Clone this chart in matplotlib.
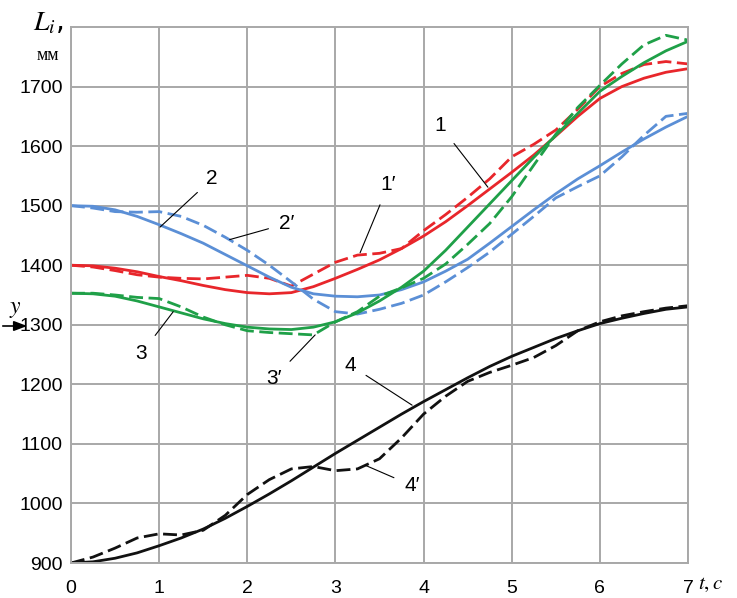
import matplotlib
matplotlib.use("Agg")
import matplotlib.pyplot as plt
import numpy as np

plt.rcParams['mathtext.fontset'] = 'stix'

t = [0, 0.25, 0.5, 0.75, 1.0, 1.25, 1.5, 1.75, 2.0, 2.25, 2.5, 2.75, 3.0, 3.25,
     3.5, 3.75, 4.0, 4.25, 4.5, 4.75, 5.0, 5.25, 5.5, 5.75, 6.0, 6.25, 6.5, 6.75, 7.0]

L1 = [1400, 1399, 1395, 1389, 1381, 1374, 1366, 1359, 1354, 1352, 1354, 1364, 1378, 1393,
      1409, 1428, 1449, 1473, 1500, 1528, 1556, 1585, 1617, 1650, 1680, 1700, 1714, 1724, 1730]
L1p = [1400, 1397, 1391, 1384, 1380, 1378, 1377, 1380, 1383, 1378, 1365, 1385, 1405, 1417,
       1420, 1428, 1458, 1485, 1514, 1545, 1582, 1603, 1627, 1662, 1700, 1722, 1737, 1742, 1738]
L2 = [1500, 1499, 1493, 1482, 1468, 1453, 1437, 1418, 1399, 1380, 1363, 1352, 1348, 1347,
      1350, 1359, 1372, 1390, 1410, 1437, 1465, 1493, 1520, 1545, 1567, 1590, 1612, 1632, 1650]
L2p = [1500, 1496, 1490, 1489, 1490, 1482, 1467, 1447, 1425, 1400, 1372, 1343, 1322, 1318,
       1326, 1336, 1350, 1372, 1396, 1422, 1452, 1482, 1513, 1532, 1550, 1582, 1618, 1650, 1655]
L3 = [1353, 1352, 1348, 1340, 1330, 1320, 1310, 1302, 1296, 1293, 1292, 1296, 1305, 1320,
      1340, 1363, 1390, 1425, 1464, 1503, 1542, 1581, 1618, 1655, 1692, 1717, 1740, 1760, 1776]
L3p = [1353, 1353, 1350, 1346, 1344, 1330, 1313, 1300, 1290, 1287, 1285, 1283, 1305, 1322,
       1348, 1362, 1378, 1402, 1435, 1470, 1515, 1568, 1620, 1665, 1702, 1738, 1770, 1786, 1778]
L4 = [900, 902, 908, 917, 929, 942, 957, 975, 995, 1016, 1038, 1061, 1084, 1106,
      1128, 1150, 1171, 1191, 1211, 1230, 1247, 1262, 1277, 1290, 1302, 1311, 1319, 1326, 1330]
L4p = [900, 910, 925, 942, 949, 947, 955, 980, 1015, 1040, 1058, 1062, 1055, 1058,
       1075, 1110, 1150, 1180, 1205, 1220, 1232, 1245, 1265, 1290, 1305, 1315, 1322, 1328, 1332]

xticks = [0, 1, 2, 3, 4, 5, 6, 7]
yticks = [900, 1000, 1100, 1200, 1300, 1400, 1500, 1600, 1700]

RED = '#e8262b'
BLUE = '#5b8fd6'
GREEN = '#1fa048'
BLACK = '#111111'

fig = plt.figure(figsize=(7.37, 5.98), dpi=100)
ax = fig.add_axes([71/737, 1-563/598, (688-71)/737, (563-27)/598])

lw = 2.0
dash = (5, 2)
ax.plot(t, L1, color=RED, lw=lw)
ax.plot(t, L1p, color=RED, lw=lw, dashes=dash)
ax.plot(t, L2, color=BLUE, lw=lw)
ax.plot(t, L2p, color=BLUE, lw=lw, dashes=dash)
ax.plot(t, L3, color=GREEN, lw=lw)
ax.plot(t, L3p, color=GREEN, lw=lw, dashes=dash)
ax.plot(t, L4, color=BLACK, lw=lw)
ax.plot(t, L4p, color=BLACK, lw=lw, dashes=dash)

ax.set_xlim(0, 7)
ax.set_ylim(900, 1800)
ax.set_xticks(xticks)
ax.set_yticks(yticks)
tickfont = ['Liberation Sans', 'DejaVu Sans']
ax.set_xticklabels([str(v) for v in xticks], fontfamily=tickfont, fontsize=14)
ax.set_yticklabels([str(v) for v in yticks], fontfamily=tickfont, fontsize=14)
ax.tick_params(length=0)
ax.tick_params(axis='x', pad=12)
ax.tick_params(axis='y', pad=6)
ax.grid(True, color='#a8a8a8', lw=1.4)
ax.set_axisbelow(True)
for s in ax.spines.values():
    s.set_color('#a8a8a8')
    s.set_linewidth(1.4)

labfont = ['Liberation Sans', 'DejaVu Sans']
def label(txt, xy, xytext):
    ax.annotate(txt, xy=xy, xytext=xytext, fontsize=15, fontfamily=labfont,
                ha='center', va='center',
                arrowprops=dict(arrowstyle='-', color='black', lw=0.8,
                                shrinkA=6, shrinkB=0))

label('1', (4.73, 1531), (4.19, 1634))
label('1\u2032', (3.28, 1421), (3.6, 1535))
label('2', (1.01, 1464), (1.6, 1545))
label('2\u2032', (1.8, 1443), (2.45, 1470))
label('3', (1.16, 1322), (0.8, 1252))
label('3\u2032', (2.77, 1283), (2.3, 1210))
label('4', (3.87, 1165), (3.17, 1232))
label('4\u2032', (3.34, 1064), (3.87, 1030))

fig.text(48/737, 1-22/598, r'$L_i$,', fontsize=20, ha='center', va='center')
fig.text(48/737, 1-55/598, 'мм', fontsize=13, fontfamily='Liberation Serif',
         ha='center', va='center')
fig.text(710/737, 1-584/598, r'$t,c$', fontsize=15, ha='center', va='center')
fig.text(15/737, 1-320/598, r'$y$', fontsize=17, ha='center', va='bottom')
fig.add_artist(matplotlib.patches.FancyArrowPatch(
    (0, 1-326/598), (30/737, 1-326/598), transform=fig.transFigure,
    arrowstyle='-|>,head_length=8,head_width=3', color='black', lw=1.2))

fig.savefig('out.png', dpi=100)
